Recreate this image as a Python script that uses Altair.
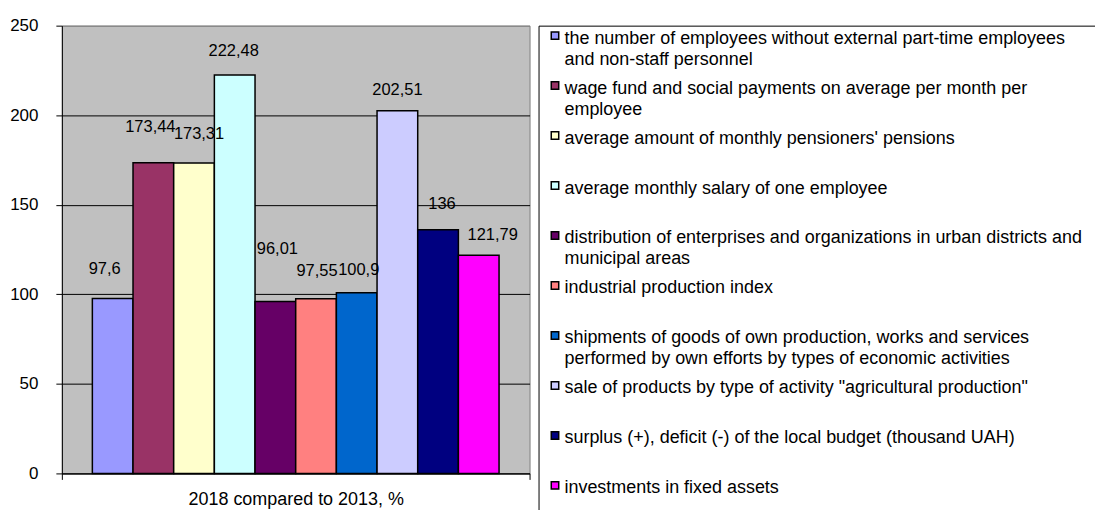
import altair as alt
import pandas as pd

FONT = "Liberation Sans"

CATEGORY = "2018 compared to 2013, %"

SERIES = [
    "the number of employees without external part-time employees\nand non-staff personnel",
    "wage fund and social payments on average per month per\nemployee",
    "average amount of monthly pensioners' pensions",
    "average monthly salary of one employee",
    "distribution of enterprises and organizations in urban districts and\nmunicipal areas",
    "industrial production index",
    "shipments of goods of own production, works and services\nperformed by own efforts by types of economic activities",
    "sale of products by type of activity \"agricultural production\"",
    "surplus (+), deficit (-) of the local budget (thousand UAH)",
    "investments in fixed assets",
]

VALUES = [97.6, 173.44, 173.31, 222.48, 96.01, 97.55, 100.9, 202.51, 136, 121.79]

COLORS = ["#9999FF", "#993366", "#FFFFCC", "#CCFFFF", "#660066",
          "#FF8080", "#0066CC", "#CCCCFF", "#000080", "#FF00FF"]

# label nudges (pixels) to mimic the original label placement
LABEL_DX = [-8, -3, 5, -1, 2, 1, 2, 0, 4, 14]
LABEL_LIFT = [30, 36, 29, 24, 53, 28, 23, 21, 26, 20]

Y_TICKS = [0, 50, 100, 150, 200, 250]

df = pd.DataFrame({
    "idx": list(range(len(SERIES))),
    "series": SERIES,
    "value": VALUES,
    "label": [f"{v:g}".replace(".", ",") for v in VALUES],
    "period": [CATEGORY] * len(SERIES),
})

x_enc = alt.X(
    "period:N",
    scale=alt.Scale(paddingInner=0, paddingOuter=0),
    axis=alt.Axis(
        title=None, labelAngle=0, labelFont=FONT, labelFontSize=18,
        labelColor="black", labelPadding=11, labelLimit=0, tickBand="extent",
        tickSize=6, tickColor="black", domainColor="black", grid=False,
    ),
)
xoff_enc = alt.XOffset("idx:O", scale=alt.Scale(paddingInner=0, paddingOuter=0.75))
y_enc = alt.Y(
    "value:Q",
    scale=alt.Scale(domain=[0, 250], nice=False),
    axis=alt.Axis(
        title=None, values=Y_TICKS, labelFont=FONT, labelFontSize=17,
        labelColor="black", labelPadding=18, tickSize=6, tickColor="black",
        domainColor="black", grid=True,
        gridColor={"condition": {"test": "datum.value >= 250", "value": "#808080"}, "value": "black"},
        gridWidth=1,
    ),
)

bars = alt.Chart(df).mark_bar(stroke="black", strokeWidth=1.5).encode(
    x=x_enc,
    xOffset=xoff_enc,
    y=y_enc,
    color=alt.Color("idx:O", scale=alt.Scale(domain=list(range(10)), range=COLORS), legend=None),
)

label_layers = []
for i in range(len(SERIES)):
    label_layers.append(
        alt.Chart(df).transform_filter(alt.datum.idx == i).mark_text(
            font=FONT, fontSize=16.5, color="black", baseline="middle",
            dx=LABEL_DX[i], dy=-LABEL_LIFT[i],
        ).encode(x=x_enc, xOffset=xoff_enc, y=y_enc, text="label:N")
    )

main = alt.layer(bars, *label_layers).properties(
    width=469, height=449,
    view=alt.ViewBackground(fill="#C0C0C0", stroke="#808080", strokeWidth=1),
)

leg_y = alt.Y("idx:Q", scale=alt.Scale(domain=[0, 9], range=[10, 461]), axis=None)

leg_sym = alt.Chart(df).mark_square(size=56, stroke="black", strokeWidth=1.5, opacity=1).encode(
    x=alt.value(16.5),
    y=leg_y,
    color=alt.Color("idx:O", scale=alt.Scale(domain=list(range(10)), range=COLORS), legend=None),
)
leg_txt = alt.Chart(df).mark_text(
    font=FONT, fontSize=18, color="black", align="left", baseline="alphabetic",
    dy=8, lineBreak="\n", lineHeight=21,
).encode(x=alt.value(26), y=leg_y, text="series:N")

legend = alt.layer(leg_sym, leg_txt).properties(
    width=575, height=500,
    view=alt.ViewBackground(fill="white", stroke="black", strokeWidth=1),
)

chart = alt.hconcat(main, legend, spacing=7).properties(
    padding={"left": 1, "top": 7, "right": -18, "bottom": -16},
).configure(background="white")

chart.save("out.html", embed_options={"renderer": "svg", "actions": False})
